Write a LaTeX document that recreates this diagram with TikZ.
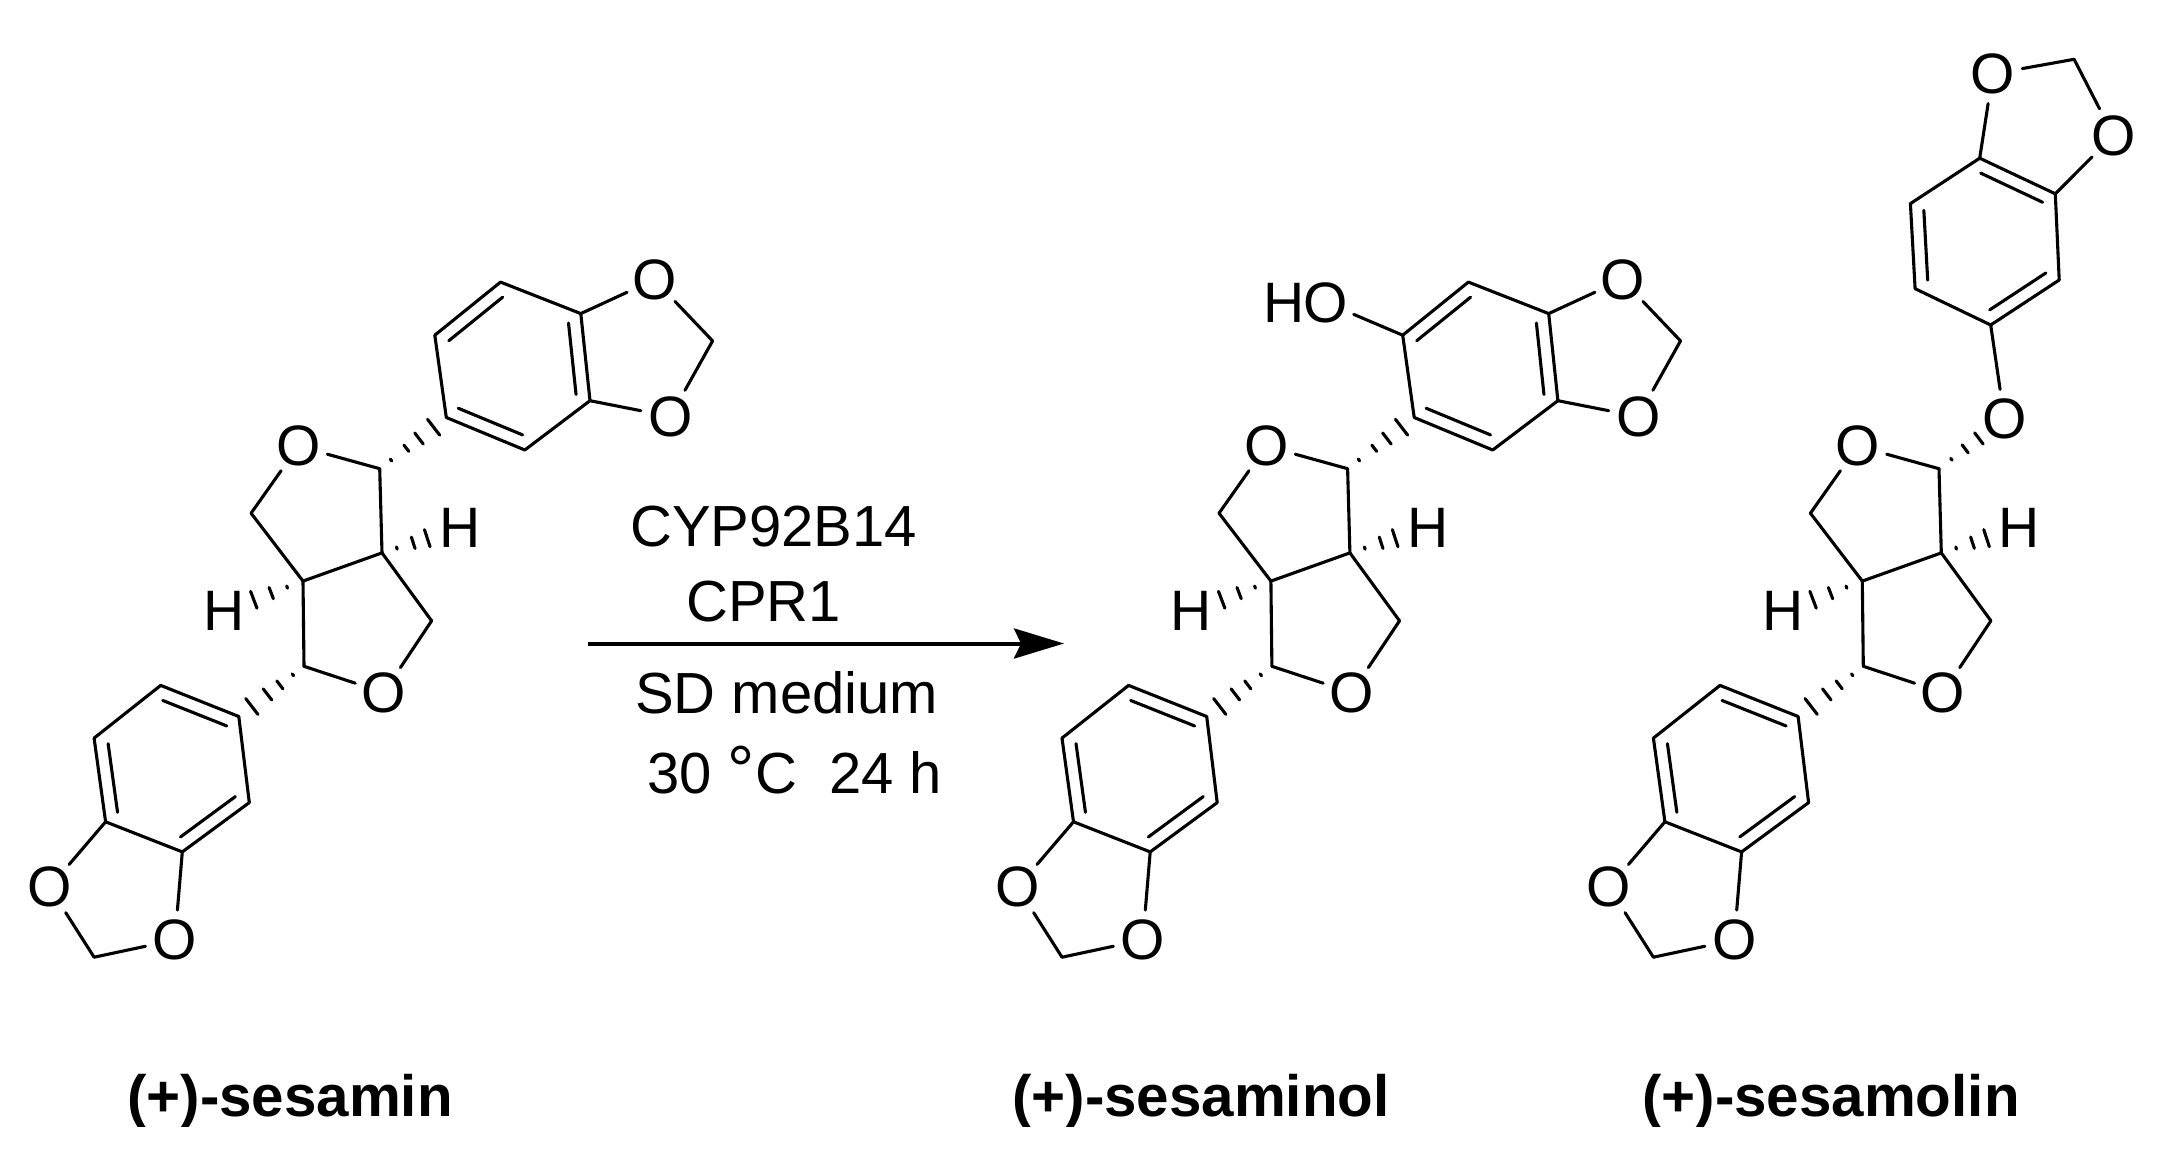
\documentclass[tikz,border=0pt]{standalone}
\usepackage{fontspec}
\setmainfont{Liberation Sans}
\usetikzlibrary{calc,arrows.meta}
\tikzset{
  x=1pt,y=-1pt,
  bond/.style={draw=black,line width=3.1pt,line cap=round},
  atom/.style={circle,inner sep=0pt,minimum size=58pt,font=\fontsize{57}{57}\selectfont,text=black},
  reagent/.style={anchor=base west,inner sep=0pt,font=\fontsize{58}{58}\selectfont,text=black},
  label/.style={anchor=base west,inner sep=0pt,font=\fontsize{58.3}{58.3}\selectfont\bfseries,text=black},
  rarrow/.style={draw=black,line width=4pt,-{Stealth[length=50pt,width=30pt,inset=7pt]}},
}
% hashed bond: #1 start, #2 end, #3 list of position/half width
\newcommand\hashbond[3]{\foreach \hp/\hw in {#3}{
  \draw[bond] ($($(#1)!\hp!(#2)$)!\hw pt!90:(#2)$) -- ($($(#1)!\hp!(#2)$)!\hw pt!-90:(#2)$);}}
% inner line of a double bond: #1,#2 atoms, #3 ring centre
\newcommand\innerbond[3]{\draw[bond] ($(#1)!.18!(#3)$) -- ($(#2)!.18!(#3)$);}
% fused furan rings and lower benzodioxole
\newcommand\corepart[2]{\begin{scope}[shift={(#2,0)}]
  \node[atom] (#1Oa) at (298.4,446.2) {O};
  \coordinate (#1Ca) at (379.7,468.7);
  \coordinate (#1Cb) at (382,552.9);
  \coordinate (#1Cc) at (303,581.1);
  \coordinate (#1Cd) at (251.1,513.2);
  \node[atom] (#1Ha) at (460,527.5) {H};
  \node[atom] (#1Hb) at (223.6,611.2) {H};
  \coordinate (#1Ce) at (304,666.3);
  \node[atom] (#1Ob) at (383.8,692.6) {O};
  \coordinate (#1Cf) at (431.6,620.8);
  \coordinate (#1g) at (238.8,716.5);
  \coordinate (#1h) at (160.7,685.4);
  \coordinate (#1i) at (94.1,738.1);
  \coordinate (#1j) at (105.6,821.8);
  \coordinate (#1k) at (182.3,851.9);
  \coordinate (#1l) at (249.3,802.6);
  \coordinate (#1v) at (172,769);
  \node[atom] (#1Oc) at (49.6,887.3) {O};
  \coordinate (#1m) at (94.1,957.2);
  \node[atom] (#1Od) at (174.9,940) {O};
  \draw[bond] (#1Cd) -- (#1Oa);
  \draw[bond] (#1Oa) -- (#1Ca);
  \draw[bond] (#1Ca) -- (#1Cb);
  \draw[bond] (#1Cb) -- (#1Cc);
  \draw[bond] (#1Cc) -- (#1Cd);
  \draw[bond] (#1Cc) -- (#1Ce);
  \draw[bond] (#1Ce) -- (#1Ob);
  \draw[bond] (#1Ob) -- (#1Cf);
  \draw[bond] (#1Cf) -- (#1Cb);
  \hashbond{#1Cb}{#1Ha}{.19/1.2,.40/6,.58/9}
  \hashbond{#1Cc}{#1Hb}{.20/1.2,.40/6,.62/9}
  \hashbond{#1Ce}{#1g}{.17/1.2,.37/5,.56/7,.80/10}
  \draw[bond] (#1g) -- (#1h);
  \draw[bond] (#1h) -- (#1i);
  \draw[bond] (#1i) -- (#1j);
  \draw[bond] (#1j) -- (#1k);
  \draw[bond] (#1k) -- (#1l);
  \draw[bond] (#1l) -- (#1g);
  \innerbond{#1g}{#1h}{#1v}
  \innerbond{#1i}{#1j}{#1v}
  \innerbond{#1k}{#1l}{#1v}
  \draw[bond] (#1j) -- (#1Oc);
  \draw[bond] (#1Oc) -- (#1m);
  \draw[bond] (#1m) -- (#1Od);
  \draw[bond] (#1Od) -- (#1k);
\end{scope}}
% upper benzodioxole of sesamin and sesaminol
\newcommand\upperpart[2]{\begin{scope}[shift={(#2,0)}]
  \coordinate (#1a) at (500.5,282.1);
  \coordinate (#1b) at (580.8,313.6);
  \coordinate (#1c) at (590,400.7);
  \coordinate (#1d) at (524.8,450);
  \coordinate (#1e) at (446.3,417.5);
  \coordinate (#1f) at (434.8,335.2);
  \coordinate (#1w) at (512.5,366);
  \node[atom] (#1Oe) at (654.3,279.7) {O};
  \coordinate (#1n) at (712.6,340.9);
  \node[atom] (#1Of) at (670.3,416.5) {O};
  \draw[bond] (#1a) -- (#1b);
  \draw[bond] (#1b) -- (#1c);
  \draw[bond] (#1c) -- (#1d);
  \draw[bond] (#1d) -- (#1e);
  \draw[bond] (#1e) -- (#1f);
  \draw[bond] (#1f) -- (#1a);
  \innerbond{#1f}{#1a}{#1w}
  \innerbond{#1b}{#1c}{#1w}
  \innerbond{#1d}{#1e}{#1w}
  \draw[bond] (#1b) -- (#1Oe);
  \draw[bond] (#1Oe) -- (#1n);
  \draw[bond] (#1n) -- (#1Of);
  \draw[bond] (#1Of) -- (#1c);
  \hashbond{#1Ca}{#1e}{.17/1.2,.40/4,.59/7,.81/10}
\end{scope}}
\begin{document}
\begin{tikzpicture}
\useasboundingbox (0,0) rectangle (2174,1161);
\fill[white] (0,0) rectangle (2174,1161);

% sesamin
\corepart{A}{0}
\upperpart{A}{0}

% sesaminol
\corepart{B}{967.9}
\upperpart{B}{967.9}
\node[atom] (BOh) at (1326,302.6) {O};
\node[atom,anchor=east,minimum size=0pt] (BHh) at (BOh.center) [xshift=-13pt] {H};
\draw[bond] (Bf) -- (BOh);

% sesamolin
\corepart{C}{1559.3}
\node[atom] (COg) at (2004.4,419.1) {O};
\coordinate (Cp) at (1990.7,325);
\coordinate (Cq) at (2059.2,280);
\coordinate (Cr) at (2055.3,193.8);
\coordinate (Cs) at (1979.7,158.2);
\coordinate (Ct) at (1910.4,203.6);
\coordinate (Cu) at (1915.1,288.7);
\coordinate (Cw) at (1985,241);
\node[atom] (COe) at (1992.7,73.9) {O};
\coordinate (Cn) at (2074.1,59.3);
\node[atom] (COf) at (2113.3,135.6) {O};
\draw[bond] (Cp) -- (Cq);
\draw[bond] (Cq) -- (Cr);
\draw[bond] (Cr) -- (Cs);
\draw[bond] (Cs) -- (Ct);
\draw[bond] (Ct) -- (Cu);
\draw[bond] (Cu) -- (Cp);
\innerbond{Cp}{Cq}{Cw}
\innerbond{Cr}{Cs}{Cw}
\innerbond{Ct}{Cu}{Cw}
\draw[bond] (Cp) -- (COg);
\draw[bond] (Cs) -- (COe);
\draw[bond] (COe) -- (Cn);
\draw[bond] (Cn) -- (COf);
\draw[bond] (COf) -- (Cr);
\hashbond{CCa}{COg}{.19/1.2,.40/5,.61/7}

% reaction arrow and conditions
\coordinate (arrowstart) at (588,643.5);
\coordinate (arrowend) at (1064,643.5);
\draw[rarrow] (arrowstart) -- (arrowend);
\node[reagent] (cyp) at (630,546) {CYP92B14};
\node[reagent] (cpr) at (686,621) {CPR1};
\node[reagent] (sd) at (635,713) {SD medium};
\node[reagent] (cond) at (647,793) {30 {\fontsize{68}{68}\selectfont °}C\ \ 24 h};

% compound names, cut off just under the baseline as in the source
\begin{scope}
\clip (0,1040) rectangle (2174,1126);
\node[label] (nameA) at (127,1116) {(+)-sesamin};
\node[label] (nameB) at (1012,1116) {(+)-sesaminol};
\node[label] (nameC) at (1642,1116) {(+)-sesamolin};
\end{scope}
\end{tikzpicture}
\end{document}
